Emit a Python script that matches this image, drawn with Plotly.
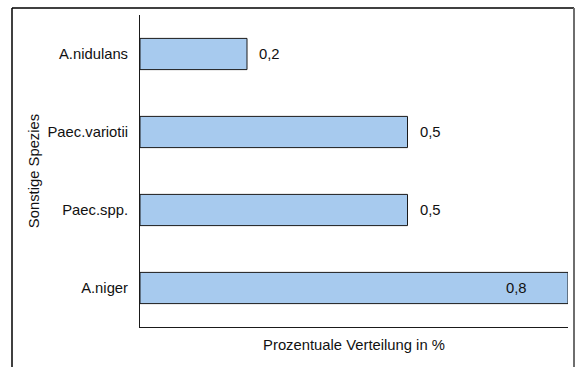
import plotly.graph_objects as go

# Sonstige Spezies – prozentuale Verteilung
species = ["A.niger", "Paec.spp.", "Paec.variotii", "A.nidulans"]
shares = [0.8, 0.5, 0.5, 0.2]

W, H = 576, 367
ML, MR, MT, MB = 140, 8, 15, 40
PW, PH = W - ML - MR, H - MT - MB
FONT = dict(family="Liberation Sans, Arial, sans-serif", size=14.8, color="#111111")
X_MAX = 0.8


def px(x):
    return (x - ML) / PW


def py(y):
    return (H - MB - y) / PH


fig = go.Figure(
    go.Bar(
        x=shares,
        y=species,
        orientation="h",
        marker=dict(color="#A7CAEE", line=dict(color="#1a1a1a", width=1)),
        width=0.4,
        hoverinfo="skip",
    )
)

# value labels: outside the bar, or inside at the end when the bar fills the axis
annotations = []
for s, v in zip(species, shares):
    label = f"{v:.1f}".replace(".", ",")
    inside = v >= X_MAX * 0.95
    annotations.append(
        dict(
            x=v, y=s, xref="x", yref="y", text=label, showarrow=False,
            xanchor="right" if inside else "left",
            xshift=-39 if inside else 10,
            font=FONT,
        )
    )

# outer frame (open at the bottom)
shapes = [
    dict(type="line", xref="paper", yref="paper",
         x0=px(12), x1=px(12), y0=py(8), y1=py(380),
         line=dict(color="#000000", width=1.5)),
    dict(type="line", xref="paper", yref="paper",
         x0=px(12), x1=px(574), y0=py(8), y1=py(8),
         line=dict(color="#000000", width=1.5)),
    dict(type="line", xref="paper", yref="paper",
         x0=px(574), x1=px(574), y0=py(8), y1=py(380),
         line=dict(color="#6e6e6e", width=2)),
]

fig.update_layout(
    width=W, height=H,
    margin=dict(l=ML, r=MR, t=MT, b=MB, autoexpand=False),
    paper_bgcolor="white", plot_bgcolor="white",
    font=FONT,
    showlegend=False,
    separators=",.",
    annotations=annotations,
    shapes=shapes,
    xaxis=dict(
        range=[0, X_MAX], showgrid=False, zeroline=False,
        showline=True, linecolor="#1a1a1a", linewidth=1,
        showticklabels=False, ticks="",
        title=dict(text="Prozentuale Verteilung in %", font=FONT, standoff=12),
        automargin=False, fixedrange=True,
    ),
    yaxis=dict(
        categoryorder="array", categoryarray=species,
        showgrid=False, zeroline=False,
        showline=True, linecolor="#1a1a1a", linewidth=1,
        ticks="", ticklabelstandoff=8, tickfont=FONT,
        title=dict(text="Sonstige Spezies", font=FONT, standoff=4),
        automargin=False, fixedrange=True,
    ),
)

fig.write_html("out.html", config={"displayModeBar": False})
